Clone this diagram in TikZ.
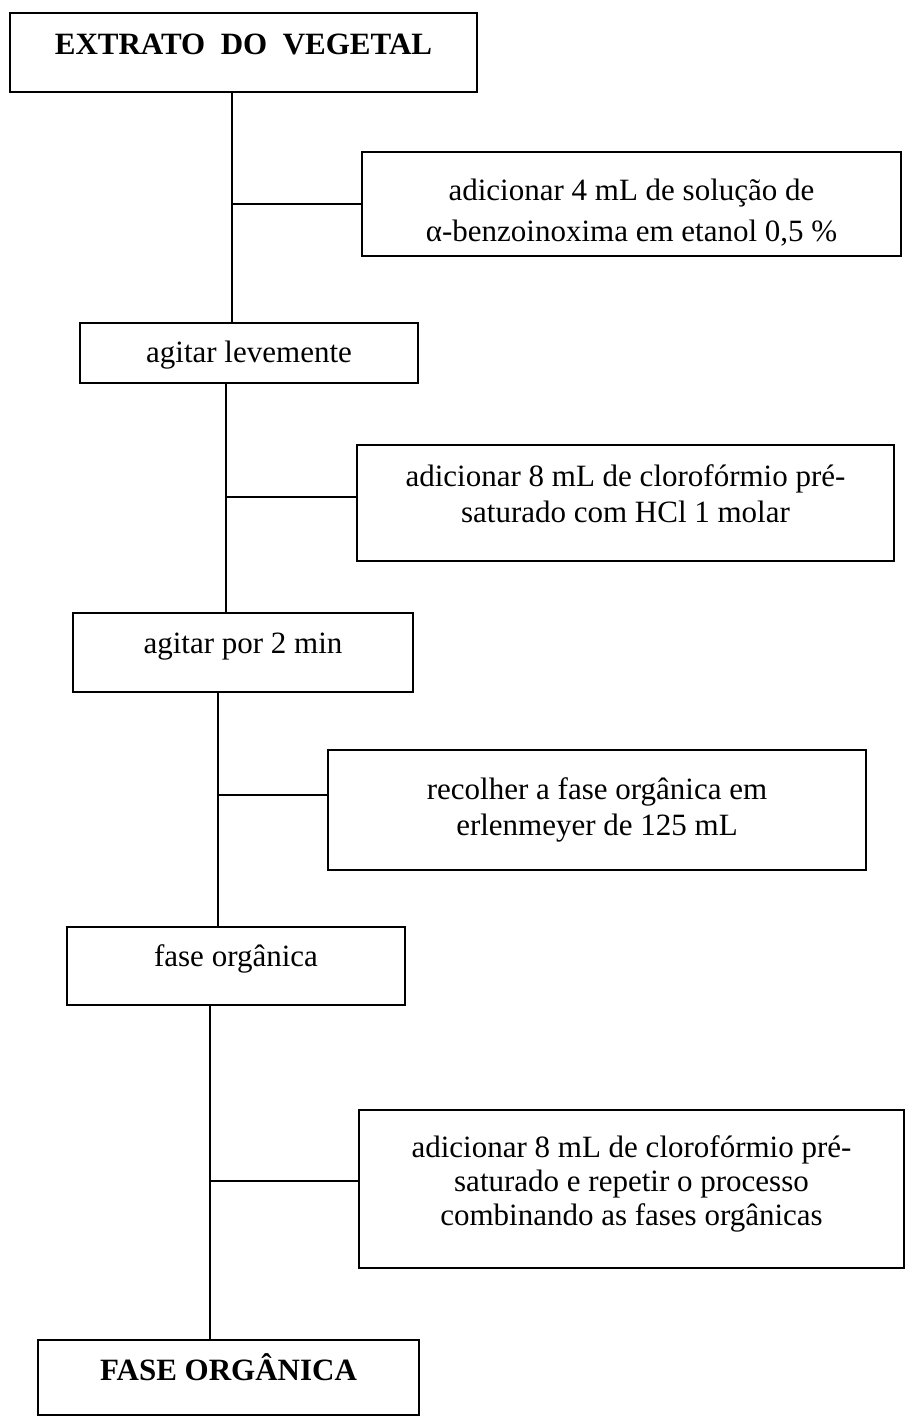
\documentclass[tikz,border=0pt]{standalone}
\usepackage{fontspec}
\setmainfont{Liberation Serif}
\usetikzlibrary{calc}

\tikzset{
  etapa/.style={draw, line width=1.6pt, inner sep=0pt, anchor=base,
    font=\fontsize{31}{36}\selectfont},
  reagente/.style={draw, line width=1.6pt, inner sep=0pt, align=center,
    font=\fontsize{31}{36}\selectfont},
  liga/.style={line width=1.6pt}
}

\begin{document}
\begin{tikzpicture}[x=1pt,y=-1pt]
        \useasboundingbox (0,0) rectangle (906,1417);

        % etapas do lado esquerdo
        \node[etapa, minimum width=467pt, text height=41pt, text depth=38pt,
          font=\fontsize{31}{36}\selectfont\bfseries] (extrato) at (243.5,54) {EXTRATO\ \ DO\ \ VEGETAL};
        \node[etapa, minimum width=338pt, text height=39pt, text depth=21pt] (levemente) at (249,362) {agitar levemente};
        \node[etapa, minimum width=340pt, text height=40pt, text depth=39pt] (agitar) at (243,653) {agitar por 2 min};
        \node[etapa, minimum width=338pt, text height=39pt, text depth=39pt] (fase) at (236,966) {fase orgânica};
        \node[etapa, minimum width=381pt, text height=40pt, text depth=35pt,
          font=\fontsize{31}{36}\selectfont\bfseries] (faseorg) at (228.5,1380) {FASE ORGÂNICA};

        % reagentes do lado direito
        \node[reagente, minimum width=539pt, minimum height=104pt] (adic1) at (631.5,204)
          {\rule{0pt}{38pt}adicionar 4 mL de solução de\\[5pt] α-benzoinoxima em etanol 0,5 \%};
        \node[reagente, minimum width=537pt, minimum height=116pt] (adic2) at (625.5,503)
          {adicionar 8 mL de clorofórmio pré-\\ saturado com HCl 1 molar\rule[-19pt]{0pt}{1pt}};
        \node[reagente, minimum width=538pt, minimum height=120pt] (recolher) at (597,810)
          {recolher a fase orgânica em\\ erlenmeyer de 125 mL};
        \node[reagente, minimum width=545pt, minimum height=158pt] (adic3) at (631.5,1189)
          {adicionar 8 mL de clorofórmio pré-\\[-2pt] saturado e repetir o processo\\[-2pt] combinando as fases orgânicas\rule[-17pt]{0pt}{1pt}};

        % pontos de ligacao dos ramos
        \coordinate (r1) at (adic1.west);
        \coordinate (r2) at ([yshift=6pt]adic2.west);
        \coordinate (r3) at ([yshift=15pt]recolher.west);
        \coordinate (r4) at ([yshift=8pt]adic3.west);

        % tronco e ramos
        \draw[liga] ([xshift=-11.5pt]extrato.south) coordinate (t1) -- (t1 |- levemente.north);
        \draw[liga] (t1 |- r1) -- (r1);
        \draw[liga] ([xshift=-23pt]levemente.south) coordinate (t2) -- (t2 |- agitar.north);
        \draw[liga] (t2 |- r2) -- (r2);
        \draw[liga] ([xshift=-25pt]agitar.south) coordinate (t3) -- (t3 |- fase.north);
        \draw[liga] (t3 |- r3) -- (r3);
        \draw[liga] ([xshift=-26pt]fase.south) coordinate (t4) -- (t4 |- faseorg.north);
        \draw[liga] (t4 |- r4) -- (r4);
    \end{tikzpicture}
\end{document}
